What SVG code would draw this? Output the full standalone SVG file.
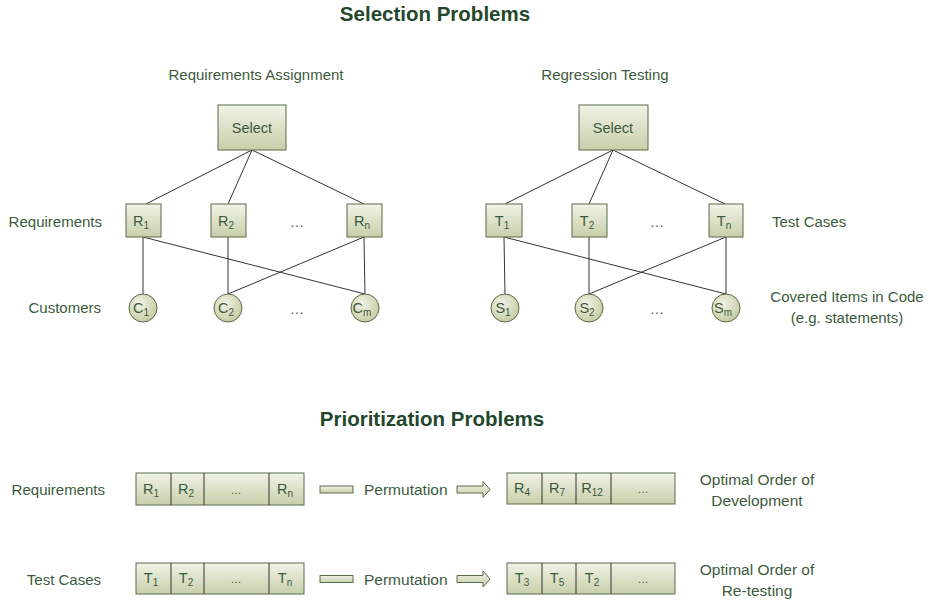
<svg xmlns="http://www.w3.org/2000/svg" width="934" height="601" viewBox="0 0 934 601">
<defs>
<linearGradient id="g" x1="0" y1="0" x2="0" y2="1">
<stop offset="0" stop-color="#f1f3e6"/>
<stop offset="1" stop-color="#c8cfaa"/>
</linearGradient>
<radialGradient id="rg" cx="0.4" cy="0.35" r="0.7">
<stop offset="0" stop-color="#f1f3e6"/>
<stop offset="1" stop-color="#c3ca9f"/>
</radialGradient>
</defs>
<style>
text{font-family:"Liberation Sans",Arial,sans-serif;fill:#3d5a3d;}
.title{font-size:20.5px;font-weight:bold;fill:#24472c;text-anchor:middle;}
.lbl{font-size:15px;}
.sub{font-size:15px;text-anchor:middle;}
.n{font-size:14.5px;text-anchor:middle;}
.s{font-size:10px;}
.box{fill:url(#g);stroke:#5a6b48;stroke-width:1;}
.circ{fill:url(#rg);stroke:#5a6b48;stroke-width:1;}
.ln{stroke:#333;stroke-width:1;fill:none;}
.r{text-anchor:end;}
.m{text-anchor:middle;}
</style>
<rect width="934" height="601" fill="#fff"/>

<text class="title" x="435" y="21">Selection Problems</text>
<text class="title" x="432" y="426">Prioritization Problems</text>
<text class="sub" x="256" y="80">Requirements Assignment</text>
<text class="sub" x="605" y="80">Regression Testing</text>

<g id="connectors">
<line class="ln" x1="252" y1="150" x2="146" y2="204"/>
<line class="ln" x1="252" y1="150" x2="228" y2="204"/>
<line class="ln" x1="252" y1="150" x2="364" y2="204"/>
<line class="ln" x1="143" y1="237" x2="143" y2="294"/>
<line class="ln" x1="143" y1="237" x2="365" y2="294"/>
<line class="ln" x1="228" y1="237" x2="228" y2="294"/>
<line class="ln" x1="364" y1="237" x2="228" y2="294"/>
<line class="ln" x1="364" y1="237" x2="365" y2="294"/>
<line class="ln" x1="613" y1="150" x2="505" y2="204"/>
<line class="ln" x1="613" y1="150" x2="589" y2="204"/>
<line class="ln" x1="613" y1="150" x2="725" y2="204"/>
<line class="ln" x1="504" y1="237" x2="505" y2="294"/>
<line class="ln" x1="504" y1="237" x2="726" y2="294"/>
<line class="ln" x1="589" y1="237" x2="589" y2="294"/>
<line class="ln" x1="726" y1="237" x2="589" y2="294"/>
<line class="ln" x1="726" y1="237" x2="726" y2="294"/>
</g>

<!-- left tree -->
<g id="selectL"><rect class="box" x="218" y="105" width="68" height="45"/><text class="n" x="252" y="133">Select</text></g>
<g id="R1"><rect class="box" x="126" y="204" width="35" height="33"/><text class="n" x="141" y="226">R<tspan class="s" dy="3">1</tspan></text></g>
<g id="R2"><rect class="box" x="211" y="204" width="35" height="33"/><text class="n" x="226" y="226">R<tspan class="s" dy="3">2</tspan></text></g>
<g id="Rn"><rect class="box" x="347" y="204" width="35" height="33"/><text class="n" x="362" y="226">R<tspan class="s" dy="3">n</tspan></text></g>
<text class="n" x="297" y="227">…</text>
<g id="C1"><circle class="circ" cx="143" cy="308" r="14"/><text class="n" x="141" y="313">C<tspan class="s" dy="3">1</tspan></text></g>
<g id="C2"><circle class="circ" cx="228" cy="308" r="14"/><text class="n" x="226" y="313">C<tspan class="s" dy="3">2</tspan></text></g>
<g id="Cm"><circle class="circ" cx="365" cy="308" r="14"/><text class="n" x="362" y="313">C<tspan class="s" dy="3">m</tspan></text></g>
<text class="n" x="297" y="314">…</text>
<text class="lbl r" x="102" y="227">Requirements</text>
<text class="lbl r" x="101" y="313">Customers</text>

<!-- right tree -->
<g id="selectR"><rect class="box" x="579" y="105" width="69" height="45"/><text class="n" x="613" y="133">Select</text></g>
<g id="T1"><rect class="box" x="486" y="204" width="36" height="33"/><text class="n" x="502" y="226">T<tspan class="s" dy="3">1</tspan></text></g>
<g id="T2"><rect class="box" x="572" y="204" width="35" height="33"/><text class="n" x="587" y="226">T<tspan class="s" dy="3">2</tspan></text></g>
<g id="Tn"><rect class="box" x="709" y="204" width="34" height="33"/><text class="n" x="724" y="226">T<tspan class="s" dy="3">n</tspan></text></g>
<text class="n" x="657" y="227">…</text>
<g id="S1"><circle class="circ" cx="505" cy="308" r="14"/><text class="n" x="503" y="313">S<tspan class="s" dy="3">1</tspan></text></g>
<g id="S2"><circle class="circ" cx="589" cy="308" r="14"/><text class="n" x="587" y="313">S<tspan class="s" dy="3">2</tspan></text></g>
<g id="Sm"><circle class="circ" cx="726" cy="308" r="14"/><text class="n" x="723" y="313">S<tspan class="s" dy="3">m</tspan></text></g>
<text class="n" x="657" y="314">…</text>
<text class="lbl" x="772" y="227">Test Cases</text>
<text class="lbl m" x="847" y="302">Covered Items in Code</text>
<text class="lbl m" x="847" y="323">(e.g. statements)</text>

<!-- prioritization row 1 -->
<text class="lbl r" x="105" y="495">Requirements</text>
<g id="reqList">
<rect class="box" x="136" y="473" width="168" height="32"/>
<line class="ln" x1="171" y1="473" x2="171" y2="505"/>
<line class="ln" x1="204" y1="473" x2="204" y2="505"/>
<line class="ln" x1="269" y1="473" x2="269" y2="505"/>
<text class="n" x="151" y="494">R<tspan class="s" dy="3">1</tspan></text>
<text class="n" x="186" y="494">R<tspan class="s" dy="3">2</tspan></text>
<text class="n" x="236" y="494" style="font-size:11px">…</text>
<text class="n" x="285" y="494">R<tspan class="s" dy="3">n</tspan></text>
</g>
<g id="perm1">
<rect class="box" x="320" y="486" width="33" height="7"/>
<text class="lbl" x="364" y="495" style="font-size:15.5px">Permutation</text>
<polygon class="box" points="457,486 483,486 483,481.5 490,489.5 483,497.5 483,493 457,493"/>
</g>
<g id="reqOrder">
<rect class="box" x="507" y="473" width="168" height="31"/>
<line class="ln" x1="542" y1="473" x2="542" y2="504"/>
<line class="ln" x1="576" y1="473" x2="576" y2="504"/>
<line class="ln" x1="611" y1="473" x2="611" y2="504"/>
<text class="n" x="522" y="493">R<tspan class="s" dy="3">4</tspan></text>
<text class="n" x="557" y="493">R<tspan class="s" dy="3">7</tspan></text>
<text class="n" x="592" y="493">R<tspan class="s" dy="3">12</tspan></text>
<text class="n" x="643" y="493" style="font-size:11px">…</text>
</g>
<text class="lbl m" x="757" y="485" style="font-size:15.5px">Optimal Order of</text>
<text class="lbl m" x="757" y="506" style="font-size:15.5px">Development</text>

<!-- prioritization row 2 -->
<text class="lbl r" x="101" y="585">Test Cases</text>
<g id="testList">
<rect class="box" x="136" y="563" width="168" height="31"/>
<line class="ln" x1="171" y1="563" x2="171" y2="594"/>
<line class="ln" x1="204" y1="563" x2="204" y2="594"/>
<line class="ln" x1="269" y1="563" x2="269" y2="594"/>
<text class="n" x="151" y="583">T<tspan class="s" dy="3">1</tspan></text>
<text class="n" x="186" y="583">T<tspan class="s" dy="3">2</tspan></text>
<text class="n" x="236" y="583" style="font-size:11px">…</text>
<text class="n" x="285" y="583">T<tspan class="s" dy="3">n</tspan></text>
</g>
<g id="perm2">
<rect class="box" x="320" y="575.5" width="33" height="7"/>
<text class="lbl" x="364" y="585" style="font-size:15.5px">Permutation</text>
<polygon class="box" points="457,575.5 483,575.5 483,571 490,579 483,587 483,582.5 457,582.5"/>
</g>
<g id="testOrder">
<rect class="box" x="507" y="563" width="168" height="31"/>
<line class="ln" x1="542" y1="563" x2="542" y2="594"/>
<line class="ln" x1="576" y1="563" x2="576" y2="594"/>
<line class="ln" x1="611" y1="563" x2="611" y2="594"/>
<text class="n" x="522" y="583">T<tspan class="s" dy="3">3</tspan></text>
<text class="n" x="557" y="583">T<tspan class="s" dy="3">5</tspan></text>
<text class="n" x="592" y="583">T<tspan class="s" dy="3">2</tspan></text>
<text class="n" x="643" y="583" style="font-size:11px">…</text>
</g>
<text class="lbl m" x="757" y="575" style="font-size:15.5px">Optimal Order of</text>
<text class="lbl m" x="757" y="596" style="font-size:15.5px">Re-testing</text>
</svg>
